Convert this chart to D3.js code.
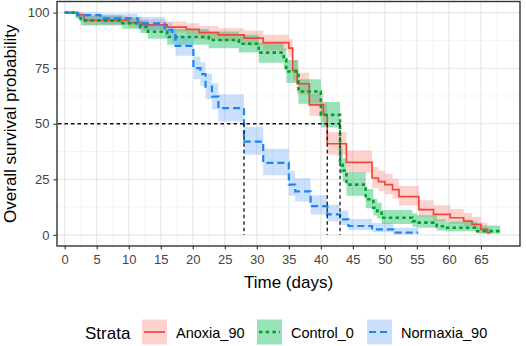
<!DOCTYPE html>
<html>
<head>
<meta charset="utf-8">
<script src="https://cdn.jsdelivr.net/npm/d3@7"></script>
<style>
  body { margin: 0; background: #fff; }
  svg { display: block; font-family: "Liberation Sans", Arial, sans-serif; }
</style>
</head>
<body>
<svg id="chart" width="526" height="346"></svg>
<script>
// Kaplan-Meier steps (time in days, survival in %)
const anoxiaTime = [0, 2, 3, 10, 12, 16, 19, 21, 24, 28, 31, 35, 35.6, 36.3, 38.2, 40.4, 41, 44, 48, 49, 50, 51.2, 52.2, 55.3, 57.6, 60.2, 62.3, 63.6, 65, 66];
const anoxiaSurv = [100, 99, 96.5, 95.5, 94.5, 93.5, 92.5, 91, 90, 88.5, 86.5, 84, 74, 68, 58.5, 54, 41, 32.6, 25.6, 24, 22.6, 20.4, 17.2, 11.4, 9.2, 7.7, 6.2, 4.7, 2.5, 1];
const anoxiaLow  = [100, 97.5, 94.5, 93.3, 92, 91, 89.8, 88, 87, 85.2, 83, 80, 69.5, 63.2, 53.5, 49, 36, 28, 21, 19.7, 18.3, 16.3, 13.2, 8.2, 6.3, 5, 3.8, 2.7, 1.1, 0.3];
const anoxiaHigh = [100, 100, 98.5, 97.7, 97, 96, 95.2, 94, 93, 92, 90, 88, 78.5, 73, 63.5, 59, 46.2, 38, 30.5, 29, 27.5, 25.3, 22, 15.6, 13.3, 11.6, 9.9, 8.1, 5.6, 3.4];
const anoxiaEnd = 66.5;

const controlTime = [0, 1.7, 2.5, 9, 11.8, 13, 16, 22.5, 27.2, 30.3, 34.2, 34.6, 36.5, 40, 43, 43.4, 44, 47, 48.2, 48.8, 49.5, 54.3, 55, 58.1, 59.5, 64.4];
const controlSurv = [100, 99, 96.5, 95.2, 93.6, 91.4, 89, 87.7, 86, 82, 79, 73.5, 64.5, 54, 33, 29, 22.6, 16, 12.2, 10.7, 7.7, 6.2, 5.5, 3.9, 3.2, 1.7];
const controlLow  = [100, 97.5, 94.2, 92.7, 90.8, 88.2, 85.5, 84, 82, 77.5, 74.3, 68.3, 59, 48.3, 27.5, 23.8, 17.6, 12, 8.7, 7.4, 4.9, 3.7, 3.2, 2, 1.6, 0.6];
const controlHigh = [100, 100, 98.8, 97.8, 96.5, 94.7, 92.6, 91.5, 90, 86.5, 83.8, 78.7, 70, 59.8, 38.5, 34.5, 28.2, 20.7, 16.2, 14.5, 11.2, 9.6, 8.8, 6.9, 6, 4.2];
const controlEnd = 68;

const normTime = [0, 2, 5.6, 11.4, 15.6, 16.8, 17.3, 20.1, 21.2, 22, 23, 24, 28, 31, 35, 36, 38.4, 41, 43, 44.3, 48, 51.3];
const normSurv = [100, 98.9, 97.4, 95.2, 92.2, 90, 85, 75, 72.3, 66.7, 62.2, 57, 42, 32.4, 22.6, 19.6, 12.9, 9.2, 7, 4, 2.5, 1];
const normLow  = [100, 97, 95, 92.4, 88.9, 86.2, 80.6, 70, 67, 61, 56.5, 51, 36, 26.8, 17.6, 15, 9.2, 6.1, 4.4, 2.2, 1.2, 0.3];
const normHigh = [100, 100, 99.5, 98, 95.6, 93.9, 89.5, 80.3, 77.7, 72.5, 68.2, 63.3, 48.5, 38.8, 28.7, 25.5, 17.8, 13.6, 11, 7.2, 5.4, 3.2];
const normEnd = 55.2;

// median survival times
const medians = [28, 41, 43];

const xTicks = d3.range(0, 70, 5);
const yTicks = [0, 25, 50, 75, 100];
const strata = ["Anoxia_90", "Control_0", "Normaxia_90"];

const svg = d3.select("#chart");

const pLeft = 57, pRight = 520, pTop = 1.5, pBottom = 246;

let x = d3.scaleLinear().domain([-1.2, 71.1]).range([pLeft, pRight]);
let y = d3.scaleLinear().domain([-5, 105]).range([pBottom, pTop]);

// put the step data together
function steps(times, surv, low, high, end) {
  let pts = times.map((t, i) => ({ t: t, s: surv[i], lo: low[i], hi: high[i] }));
  let last = pts[pts.length - 1];
  pts.push({ t: end, s: last.s, lo: last.lo, hi: last.hi });
  return pts;
}

let series = [
  { name: strata[0], pts: steps(anoxiaTime, anoxiaSurv, anoxiaLow, anoxiaHigh, anoxiaEnd),
    line: "#F4453A", fill: "rgba(248,118,109,0.32)", width: 1.7, dash: null },
  { name: strata[1], pts: steps(controlTime, controlSurv, controlLow, controlHigh, controlEnd),
    line: "#00A02A", fill: "rgba(0,185,85,0.4)", width: 2.6, dash: "3.5,3.2" },
  { name: strata[2], pts: steps(normTime, normSurv, normLow, normHigh, normEnd),
    line: "#1A86F5", fill: "rgba(97,160,245,0.33)", width: 2.2, dash: "7,4" }
];

// panel grid
let grid = svg.append("g");
let minorX = d3.range(2.5, 71, 5);
let minorY = [12.5, 37.5, 62.5, 87.5];
grid.selectAll(".mx").data(minorX).enter().append("line")
  .attr("x1", d => x(d)).attr("x2", d => x(d)).attr("y1", pTop).attr("y2", pBottom)
  .attr("stroke", "#F0F0F0").attr("stroke-width", 0.7);
grid.selectAll(".my").data(minorY).enter().append("line")
  .attr("x1", pLeft).attr("x2", pRight).attr("y1", d => y(d)).attr("y2", d => y(d))
  .attr("stroke", "#F0F0F0").attr("stroke-width", 0.7);
grid.selectAll(".gx").data(xTicks).enter().append("line")
  .attr("x1", d => x(d)).attr("x2", d => x(d)).attr("y1", pTop).attr("y2", pBottom)
  .attr("stroke", "#E6E6E6").attr("stroke-width", 1.1);
grid.selectAll(".gy").data(yTicks).enter().append("line")
  .attr("x1", pLeft).attr("x2", pRight).attr("y1", d => y(d)).attr("y2", d => y(d))
  .attr("stroke", "#E6E6E6").attr("stroke-width", 1.1);

// confidence bands
let band = d3.area()
  .curve(d3.curveStepAfter)
  .x(d => x(d.t))
  .y0(d => y(d.lo))
  .y1(d => y(d.hi));

svg.append("g").selectAll("path").data(series).enter().append("path")
  .attr("d", d => band(d.pts))
  .attr("fill", d => d.fill);

// survival curves
let curve = d3.line()
  .curve(d3.curveStepAfter)
  .x(d => x(d.t))
  .y(d => y(d.s));

svg.append("g").selectAll("path").data(series).enter().append("path")
  .attr("d", d => curve(d.pts))
  .attr("fill", "none")
  .attr("stroke", d => d.line)
  .attr("stroke-width", d => d.width)
  .attr("stroke-dasharray", d => d.dash);

// median lines
let med = svg.append("g")
  .attr("stroke", "#111")
  .attr("stroke-width", 1.3)
  .attr("stroke-dasharray", "3.5,3")
  .attr("fill", "none");
med.append("line")
  .attr("x1", pLeft + 1).attr("x2", x(d3.max(medians)))
  .attr("y1", y(50)).attr("y2", y(50));
med.selectAll(".v").data(medians).enter().append("line")
  .attr("x1", d => x(d)).attr("x2", d => x(d))
  .attr("y1", y(50)).attr("y2", y(0));

// border
svg.append("rect")
  .attr("x", pLeft).attr("y", pTop)
  .attr("width", pRight - pLeft).attr("height", pBottom - pTop)
  .attr("fill", "none").attr("stroke", "#333").attr("stroke-width", 1.4);

// axes
let xAxis = d3.axisBottom(x).tickValues(xTicks).tickSize(3.5).tickPadding(5);
let yAxis = d3.axisLeft(y).tickValues(yTicks).tickSize(3.5).tickPadding(4);

let gx = svg.append("g").attr("transform", `translate(0, ${pBottom})`).call(xAxis);
let gy = svg.append("g").attr("transform", `translate(${pLeft}, 0)`).call(yAxis);
[gx, gy].forEach(g => {
  g.select(".domain").remove();
  g.selectAll(".tick line").attr("stroke", "#333").attr("stroke-width", 1.1);
  g.selectAll(".tick text").attr("fill", "#444").style("font-size", "13px")
    .style("font-family", "'Liberation Sans', Arial, sans-serif");
});

// axis titles
svg.append("text")
  .attr("x", (pLeft + pRight) / 2).attr("y", 288)
  .attr("text-anchor", "middle")
  .style("font-size", "17px")
  .text("Time (days)");

svg.append("text")
  .attr("transform", `translate(16, ${(pTop + pBottom) / 2}) rotate(-90)`)
  .attr("text-anchor", "middle")
  .style("font-size", "17px")
  .text("Overall survival probability");

// legend
let legend = svg.append("g");
legend.append("text")
  .attr("x", 85).attr("y", 339)
  .style("font-size", "17px")
  .text("Strata");

let keyX = [142, 257, 367];
let keys = legend.selectAll(".key").data(series).enter().append("g")
  .attr("transform", (d, i) => `translate(${keyX[i]}, 319.5)`);
keys.append("rect")
  .attr("width", 25).attr("height", 25)
  .attr("fill", d => d.fill);
keys.append("line")
  .attr("x1", 2).attr("x2", 23).attr("y1", 12.5).attr("y2", 12.5)
  .attr("stroke", d => d.line)
  .attr("stroke-width", d => d.width)
  .attr("stroke-dasharray", d => d.dash);
keys.append("text")
  .attr("x", 34).attr("y", 18)
  .style("font-size", "14.5px")
  .text(d => d.name);
</script>
</body>
</html>
